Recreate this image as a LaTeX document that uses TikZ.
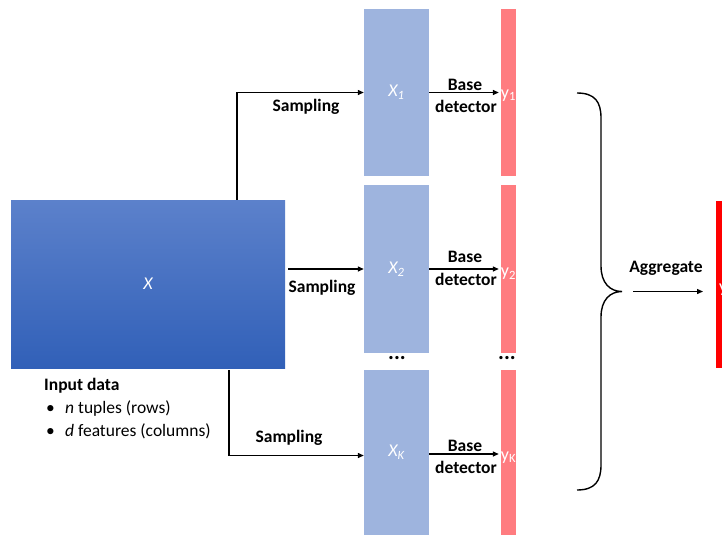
\documentclass[tikz,border=0pt]{standalone}
\usepackage{fontspec}
\setmainfont{Carlito}
\usetikzlibrary{arrows.meta}
\definecolor{bigtop}{RGB}{92,129,203}
\definecolor{bigbot}{RGB}{49,96,184}
\definecolor{lightblue}{RGB}{158,180,222}
\definecolor{pinkred}{RGB}{255,124,128}
\definecolor{finalred}{RGB}{255,0,0}
\begin{document}
\begin{tikzpicture}[x=1pt,y=-1pt,
  lbl/.style={font=\fontsize{17.5}{19}\selectfont\bfseries, inner sep=0},
  txt/.style={font=\fontsize{17.5}{19}\selectfont, inner sep=0, anchor=west},
  bigbox/.style={top color=bigtop, bottom color=bigbot, draw=none, inner sep=0, text=white, font=\fontsize{18}{20}\selectfont\itshape},
  sbox/.style={fill=lightblue, minimum width=65pt, inner sep=0, text=white, font=\fontsize{18}{20}\selectfont\itshape},
  sbar/.style={fill=pinkred, minimum width=15pt, inner sep=0},
  ylbl/.style={text=white, font=\fontsize{18}{20}\selectfont, inner sep=0},
  arr/.style={-{Triangle[length=6pt,width=5pt]}, line width=1.3pt},
  brace/.style={line width=1.4pt}]
\useasboundingbox (0,0) rectangle (722,535);

% input matrix
\node[bigbox, minimum width=274pt, minimum height=168pt] (X) at (148,284) {X};

% sampled subsets
\node[sbox, minimum height=167pt] (X1) at (396.5,92.5) {X\textsubscript{1}};
\node[sbox, minimum height=168pt] (X2) at (396.5,269) {X\textsubscript{2}};
\node[sbox, minimum height=165pt] (XK) at (396.5,452.5) {X\textsubscript{K}};

% score bars
\node[sbar, minimum height=167pt] (Y1) at (508.5,92.5) {};
\node[sbar, minimum height=168pt] (Y2) at (508.5,269) {};
\node[sbar, minimum height=165pt] (YK) at (508.5,452.5) {};
\node[ylbl] (ly1) at ([yshift=-3pt]Y1.center) {y\textsubscript{1}};
\node[ylbl] (ly2) at ([yshift=-5pt]Y2.center) {y\textsubscript{2}};
\node[ylbl] (lyk) at ([yshift=-5pt]YK.center) {y\textsubscript{K}};

% dots
\node[font=\fontsize{22}{24}\selectfont\bfseries, inner sep=0] (d1) at (397,358) {...};
\node[font=\fontsize{22}{24}\selectfont\bfseries, inner sep=0] (d2) at (507,358) {...};

% sampling connectors
\draw[arr] ([xshift=89pt]X.north) |- (X1.west);
\node[lbl] (s1) at (306,107) {Sampling};
\path (X.east |- X2.west) coordinate (xe);
\draw[arr] ([xshift=3pt]xe) -- (X2.west);
\node[lbl] (s2) at (322,288) {Sampling};
\draw[arr] ([xshift=81pt,yshift=-2pt]X.south) |- ([yshift=-3pt]XK.west);
\node[lbl] (s3) at (289,438) {Sampling};

% base detectors
\draw[arr, shorten >=2pt] (X1.east) -- (Y1.west);
\node[lbl] (b1) at (465,85) {Base};
\node[lbl] (e1) at (466,106) {detector};
\draw[arr, shorten >=2pt] (X2.east) -- (Y2.west);
\node[lbl] (b2) at (465,257) {Base};
\node[lbl] (e2) at (466,279) {detector};
\draw[arr, shorten >=2pt] ([yshift=-1.5pt]XK.east) -- ([yshift=-1.5pt]YK.west);
\node[lbl] (b3) at (465,446) {Base};
\node[lbl] (e3) at (466,467) {detector};

% brace
\coordinate (tip) at (622,291.5);
\draw[brace] (577,93) .. controls (595,93) and (601,102) .. (601,118)
  -- (601,266) .. controls (601,283) and (610,291.5) .. (tip)
  .. controls (610,291.5) and (601,300) .. (601,317)
  -- (601,465) .. controls (601,481) and (595,490) .. (577,490);

% aggregate
\node[fill=finalred, minimum width=14pt, minimum height=167pt, inner sep=0, anchor=west] (F) at (716,284.5) {};
\node[ylbl, anchor=west] (fy) at (719,290) {y};
\path (F.west |- tip) coordinate (fw);
\draw[arr] ([xshift=11pt]tip) -- ([xshift=-13pt]fw);
\node[lbl] (ag) at (666,268) {Aggregate};

% input description
\node[lbl, anchor=west] (in) at (44,386) {Input data};
\node[txt] (l1) at (44,409) {\makebox[21pt][l]{\hspace{2pt}•}\textit{n} tuples (rows)};
\node[txt] (l2) at (44,431) {\makebox[21pt][l]{\hspace{2pt}•}\textit{d} features (columns)};
\end{tikzpicture}
\end{document}
